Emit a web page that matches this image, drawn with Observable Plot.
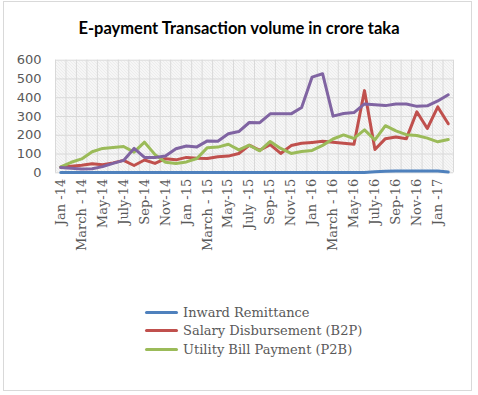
<!DOCTYPE html>
<html>
<head>
<meta charset="utf-8">
<script src="https://cdn.jsdelivr.net/npm/d3@7"></script>
<script src="https://cdn.jsdelivr.net/npm/@observablehq/plot@0.6"></script>
<style>
  html, body { margin: 0; padding: 0; background: #fff; }
  #wrap { position: relative; width: 478px; height: 395px; overflow: hidden; background: #fff; }
  #frame { position: absolute; left: 3px; top: 1px; width: 469px; height: 390px; border: 1px solid #d9d9d9; box-sizing: border-box; }
  #title { position: absolute; left: 0; top: 18px; width: 478px; text-align: center; font-family: Lato, "Liberation Sans", sans-serif; font-weight: 700; font-size: 16.5px; color: #000; }
  #chart { position: absolute; left: 0; top: 45px; }
  #legend { position: absolute; left: 145px; top: 303px; font-family: "DejaVu Serif", serif; font-size: 13px; color: #595959; }
  .row { display: flex; align-items: center; height: 18.5px; }
  .sw { width: 33px; height: 3px; border-radius: 2px; margin-right: 5px; }
</style>
</head>
<body>
<div id="wrap">
  <div id="frame"></div>
  <div id="title">E-payment Transaction volume in crore taka</div>
  <div id="chart"></div>
  <div id="legend"></div>
</div>
<script>
// Tick labels (every second month, starting Jan-14)
const tickLabels = ["Jan -14","March - 14","May-14","July-14","Sep-14","Nov-14","Jan -15","March - 15","May-15","July -15","Sep-15","Nov-15","Jan -16","March - 16","May-16","July-16","Sep-16","Nov-16","Jan -17"];

// Series names and colours
const seriesNames = ["Inward Remittance", "Salary Disbursement (B2P)", "Utility Bill Payment (P2B)", "Other"];
const seriesColors = ["#4f81bd", "#c0504d", "#9bbb59", "#8064a2"];

// Monthly values Jan-14 .. Feb-17 (38 months), crore taka
const inwardRemittance = [2,2,2,2,2,2,2,2,2,2,2,2,2,2,2,2,2,2,2,2,2,2,2,2,2,2,2,2,2,2,5,8,9,10,10,10,9,4];
const salaryDisbursement = [30,35,40,48,43,53,66,39,68,50,75,69,82,78,76,86,89,103,147,120,150,103,145,157,162,168,163,157,152,438,124,182,191,182,325,236,351,261];
const utilityBillPayment = [32,56,74,112,130,135,140,110,163,97,56,50,58,76,134,137,152,122,147,117,167,130,103,113,119,146,180,202,183,229,175,251,223,203,199,185,165,177];
const otherPayment = [28,24,20,22,33,50,66,130,82,82,90,128,143,138,170,168,208,220,268,267,314,314,314,348,510,528,302,316,321,367,362,358,367,367,354,357,383,416];

const seriesValues = [inwardRemittance, salaryDisbursement, utilityBillPayment, otherPayment];
const data = seriesValues.flatMap((vals, s) => vals.map((v, i) => ({i, v, s: seriesNames[s]})));
const nMonths = inwardRemittance.length;
const boundaries = d3.range(-0.5, nMonths, 1);
const tickIdx = tickLabels.map((_, k) => k * 2);

const chart = Plot.plot({
  width: 478,
  height: 235,
  marginLeft: 55,
  marginRight: 25,
  marginTop: 14.7,
  marginBottom: 107.7,
  style: {background: "transparent", overflow: "visible"},
  x: {type: "linear", domain: [-0.5, nMonths - 0.5], axis: null},
  y: {domain: [0, 600], axis: null},
  color: {domain: seriesNames, range: seriesColors},
  marks: [
    Plot.frame({fill: "url(#hatch)", stroke: null}),
    Plot.ruleX(boundaries, {stroke: "#d9d9d9", strokeWidth: 1}),
    Plot.ruleY(d3.range(0, 601, 100), {stroke: "#d9d9d9", strokeWidth: 1}),
    Plot.axisY({ticks: d3.range(0, 601, 100), tickSize: 0, tickPadding: 14, fontSize: 13, fontFamily: "DejaVu Sans", fill: "#595959", label: null}),
    Plot.axisX({ticks: tickIdx, tickFormat: (d) => tickLabels[d / 2], tickSize: 0, tickPadding: 6, tickRotate: -90, fontSize: 13, fontFamily: "DejaVu Serif", fill: "#595959", label: null}),
    Plot.line(data, {x: "i", y: "v", z: "s", stroke: "s", strokeWidth: 3, strokeLinecap: "round", strokeLinejoin: "round"})
  ]
});

// hatch pattern for the plot area background
const svg = d3.select(chart);
const defs = svg.insert("defs", ":first-child");
const pat = defs.append("pattern").attr("id", "hatch").attr("patternUnits", "userSpaceOnUse").attr("width", 3).attr("height", 3);
pat.append("rect").attr("width", 3).attr("height", 3).attr("fill", "#ffffff");
pat.append("path").attr("d", "M-1,-1 L4,4 M-1,2 L1,4 M2,-1 L4,1").attr("stroke", "#cfcfcf").attr("stroke-width", 0.8);

document.getElementById("chart").appendChild(chart);

// legend (first three series)
const legend = d3.select("#legend");
seriesNames.slice(0, 3).forEach((name, k) => {
  const row = legend.append("div").attr("class", "row");
  row.append("div").attr("class", "sw").style("background", seriesColors[k]);
  row.append("span").text(name);
});
</script>
</body>
</html>
